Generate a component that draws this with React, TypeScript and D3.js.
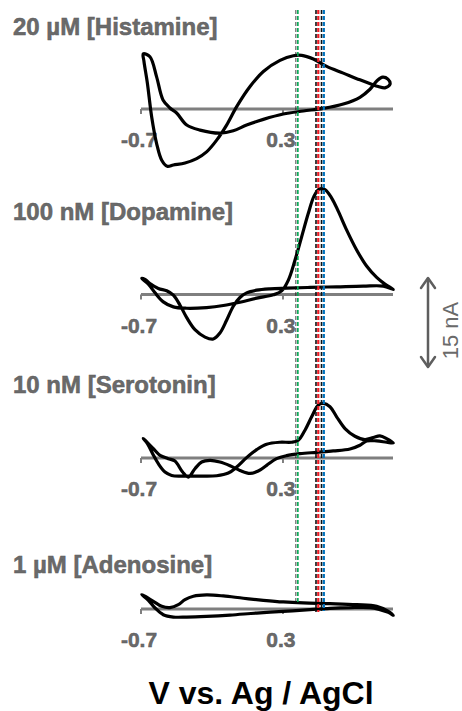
import React from "react";
import * as d3 from "d3";

// ---------- data ----------
const panelTitles = ["20 µM [Histamine]", "100 nM [Dopamine]", "10 nM [Serotonin]", "1 µM [Adenosine]"];
const xTickValues = [-0.7, 0.3];
const xTickLabels = ["-0.7", "0.3"];
const xDomain = [-0.7, 1.075];
const scaleBarNA = 15;
const scaleBarLabel = "15 nA";
const axisTitle = "V vs. Ag / AgCl";
const markerPotentials = [0.402, 0.546, 0.585];
const markerColors = ["#00a651", "#ee1c25", "#0072bc"];

// cyclic voltammograms: [potential (V), current (nA)]
const histamineCV: [number, number][] = [
  [-0.684, 9.32], [-0.637, 8.81], [-0.59, 5.42], [-0.545, 1.53], [-0.496, 0.17], [-0.449, -0.68],
  [-0.378, -2.71], [-0.284, -3.56], [-0.144, -4.07], [-0.05, -3.67], [0.044, -2.71], [0.162, -1.75],
  [0.302, -0.85], [0.443, -0.34], [0.584, 0.11], [0.725, 0.85], [0.842, 1.98], [0.913, 3.33],
  [0.964, 4.8], [1.002, 5.37], [1.039, 5.03], [1.054, 4.18], [1.018, 3.56], [0.971, 3.79],
  [0.924, 4.18], [0.842, 4.92], [0.725, 6.05], [0.608, 7.18], [0.514, 8.42], [0.432, 9.04],
  [0.373, 8.98], [0.279, 8.19], [0.162, 6.33], [0.068, 3.79], [-0.026, 0.4], [-0.097, -2.71],
  [-0.167, -5.25], [-0.238, -7.23], [-0.308, -8.36], [-0.39, -9.1], [-0.472, -9.44], [-0.515, -9.66],
  [-0.554, -8.64], [-0.59, -5.82], [-0.625, -1.3], [-0.655, 4.35], [-0.679, 8.02],
];
const dopamineCV: [number, number][] = [
  [-0.695, 2.71], [-0.648, 1.75], [-0.601, 0.28], [-0.543, -1.24], [-0.472, -2.09], [-0.378, -2.32],
  [-0.238, -2.2], [-0.12, -1.86], [-0.003, -1.3], [0.115, -0.62], [0.232, -0.06], [0.291, 0.62],
  [0.338, 2.43], [0.385, 5.82], [0.432, 9.77], [0.479, 13.73], [0.518, 16.55], [0.556, 17.8],
  [0.596, 17.68], [0.643, 16.27], [0.69, 14.01], [0.748, 10.9], [0.819, 7.51], [0.889, 4.8],
  [0.96, 2.88], [1.018, 1.75], [1.077, 0.85], [1.007, 1.41], [0.866, 1.41], [0.678, 1.3],
  [0.49, 1.19], [0.326, 1.07], [0.208, 0.96], [0.115, 0.73], [0.044, 0.28], [-0.003, -0.51],
  [-0.05, -1.98], [-0.097, -4.35], [-0.144, -6.5], [-0.191, -7.51], [-0.249, -7.18], [-0.32, -5.93],
  [-0.378, -3.9], [-0.425, -1.81], [-0.472, -0.11], [-0.519, 0.62], [-0.578, 1.02], [-0.637, 1.86],
  [-0.672, 2.54],
];
const serotoninCV: [number, number][] = [
  [-0.684, 3.28], [-0.655, 2.43], [-0.618, 0.73], [-0.578, -0.96], [-0.531, -2.37], [-0.484, -2.94],
  [-0.414, -3.05], [-0.284, -3.05], [-0.167, -2.99], [-0.085, -2.54], [-0.026, -1.53], [0.044, 0.06],
  [0.115, 1.41], [0.185, 2.32], [0.279, 2.66], [0.361, 2.66], [0.408, 2.99], [0.455, 4.69],
  [0.502, 6.95], [0.549, 8.93], [0.584, 9.21], [0.631, 8.64], [0.678, 6.95], [0.737, 4.97],
  [0.807, 3.67], [0.877, 3.11], [0.936, 3.45], [0.983, 3.73], [1.03, 3.28], [1.077, 2.54],
  [1.03, 2.66], [0.96, 2.88], [0.889, 2.88], [0.842, 2.15], [0.772, 1.52], [0.654, 1.19],
  [0.537, 0.96], [0.42, 0.73], [0.326, 0.4], [0.255, -0.11], [0.185, -1.24], [0.126, -2.2],
  [0.068, -2.6], [-0.003, -2.09], [-0.073, -1.3], [-0.144, -0.68], [-0.214, -0.4], [-0.273, -0.68],
  [-0.32, -1.81], [-0.367, -3.22], [-0.407, -2.37], [-0.461, -0.51], [-0.508, -0.11], [-0.566, 0.45],
  [-0.613, 1.58], [-0.66, 2.71],
];
const adenosineCV: [number, number][] = [
  [-0.695, 2.43], [-0.648, 1.47], [-0.601, 0.17], [-0.543, -0.96], [-0.472, -1.36], [-0.378, -1.36],
  [-0.238, -1.24], [-0.073, -1.02], [0.115, -0.68], [0.302, -0.4], [0.49, -0.11], [0.631, 0.11],
  [0.772, 0.23], [0.913, 0.23], [0.983, -0.11], [1.042, -0.56], [1.077, -1.07], [1.042, -0.4],
  [0.96, 0.45], [0.819, 0.73], [0.631, 0.9], [0.443, 1.02], [0.302, 1.19], [0.162, 1.47],
  [0.021, 1.81], [-0.12, 2.2], [-0.238, 2.37], [-0.331, 2.15], [-0.39, 1.58], [-0.437, 0.73],
  [-0.496, 0.23], [-0.554, 0.45], [-0.613, 1.3], [-0.672, 2.15],
];
const panelCurves = [histamineCV, dopamineCV, serotoninCV, adenosineCV];

// ---------- layout ----------
const W = 462;
const H = 711;
const zeroYs = [109, 294.5, 458, 609];
const titleYs = [35, 220, 393, 573];
const pxPerNA = 5.93;
const gray = "#7f7f7f";
const textGray = "#6a6a6a";

const xScale = d3.scaleLinear().domain(xDomain).range([141, 393]);

export default function App() {
  const font = "'Liberation Sans', Arial, sans-serif";
  const markerTop = 10;
  const markerBottoms = [604, 612, 611];
  const barX = 428;
  const barCenter = 322.5;
  const barLen = scaleBarNA * pxPerNA;
  const barTop = barCenter - barLen / 2;
  const barBot = barCenter + barLen / 2;
  return (
    <svg width={W} height={H} style={{ position: "absolute", left: 0, top: 0, background: "#fff" }}>
      {panelCurves.map((cv, i) => {
        const y = d3.scaleLinear().domain([0, 1]).range([zeroYs[i], zeroYs[i] - pxPerNA]);
        const line = d3
          .line<[number, number]>()
          .x((d) => xScale(d[0]))
          .y((d) => y(d[1]))
          .curve(d3.curveCatmullRomClosed.alpha(0.5));
        const [x0, x1] = xScale.range();
        return (
          <g key={i}>
            <text x={13} y={titleYs[i]} fontFamily={font} fontWeight="bold" fontSize={24} fill={textGray} stroke="#5a5a5a" strokeWidth={0.5}>
              {panelTitles[i]}
            </text>
            <line x1={x0} x2={x1} y1={zeroYs[i]} y2={zeroYs[i]} stroke={gray} strokeWidth={3} />
            {xTickValues.map((v, k) => (
              <g key={k}>
                <line x1={xScale(v)} x2={xScale(v)} y1={zeroYs[i]} y2={zeroYs[i] + 5} stroke={gray} strokeWidth={2} />
                <text x={xScale(v) - 2} y={zeroYs[i] + 38} textAnchor="middle" fontFamily={font} fontWeight="bold" fontSize={21} fill={textGray} stroke="#5a5a5a" strokeWidth={0.5}>
                  {xTickLabels[k]}
                </text>
              </g>
            ))}
            <path d={line(cv) || ""} fill="none" stroke="#000" strokeWidth={3.2} strokeLinejoin="round" />
          </g>
        );
      })}
      {markerPotentials.map((v, i) => {
        const x = xScale(v);
        const w = i === 0 ? 1.6 : 2.2;
        return (
          <g key={i}>
            <line x1={x - w / 2 - 0.8} x2={x - w / 2 - 0.8} y1={markerTop} y2={markerBottoms[i]} stroke="#111" strokeWidth={i === 0 ? 0.8 : 1.6} strokeDasharray="4 2" />
            <line x1={x + 0.4} x2={x + 0.4} y1={markerTop} y2={markerBottoms[i]} stroke={markerColors[i]} strokeWidth={w} strokeDasharray="4 2" />
          </g>
        );
      })}
      <g stroke="#5e5e5e" strokeWidth={2.5} fill="none" strokeLinecap="round" strokeLinejoin="round">
        <line x1={barX} x2={barX} y1={barTop + 1} y2={barBot - 1} />
        <polyline points={`${barX - 7},${barTop + 10} ${barX},${barTop} ${barX + 7},${barTop + 10}`} />
        <polyline points={`${barX - 7},${barBot - 10} ${barX},${barBot} ${barX + 7},${barBot - 10}`} />
      </g>
      <text transform={`translate(458, ${barCenter + 8}) rotate(-90)`} textAnchor="middle" fontFamily={font} fontSize={22} fill="#6a6a6a">
        {scaleBarLabel}
      </text>
      <text x={261} y={704} textAnchor="middle" fontFamily={font} fontWeight="bold" fontSize={32} fill="#000">
        {axisTitle}
      </text>
    </svg>
  );
}
